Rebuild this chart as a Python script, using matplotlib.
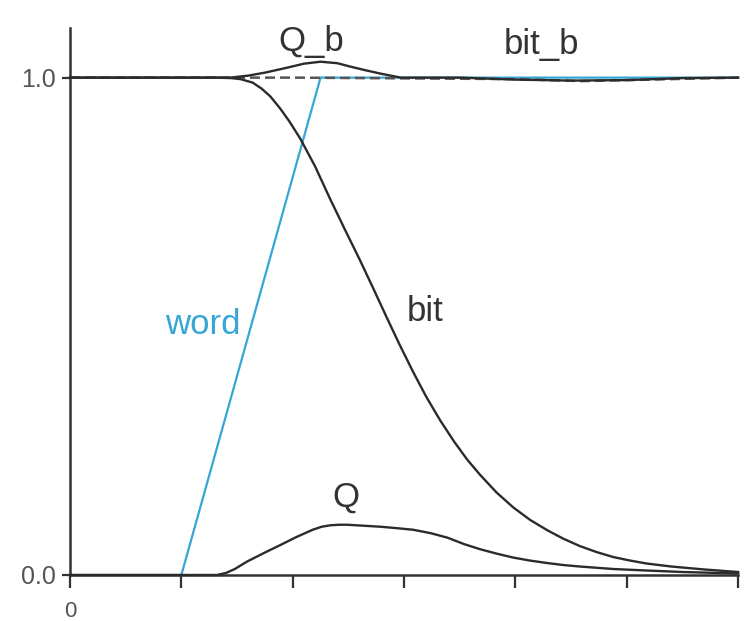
import matplotlib
matplotlib.use("Agg")
import matplotlib.pyplot as plt

# time axis is in arbitrary units, one tick per unit
word_t = [0.0, 1.0, 2.25, 6.0]
word_v = [0.0, 0.0, 1.0, 1.0]

bit_t = [0.0, 1.3, 1.45, 1.53, 1.64, 1.72, 1.80, 1.887, 1.97, 2.066, 2.2,
         2.336, 2.47, 2.606, 2.73, 2.848, 2.96, 3.082, 3.2, 3.324, 3.45,
         3.567, 3.68, 3.83, 3.98, 4.13, 4.286, 4.43, 4.58, 4.73, 4.88, 5.03,
         5.18, 5.4, 5.7, 6.0]
bit_v = [1.0, 1.0, 0.999, 0.997, 0.99, 0.978, 0.962, 0.938, 0.912, 0.878,
         0.822, 0.756, 0.694, 0.632, 0.573, 0.516, 0.463, 0.408, 0.358, 0.311,
         0.268, 0.232, 0.202, 0.166, 0.136, 0.111, 0.090, 0.073, 0.058, 0.046,
         0.036, 0.029, 0.023, 0.017, 0.011, 0.006]

q_t = [0.0, 1.32, 1.40, 1.48, 1.59, 1.74, 1.887, 2.03, 2.18, 2.26, 2.34,
       2.42, 2.49, 2.64, 2.79, 2.94, 3.08, 3.24, 3.39, 3.54, 3.68, 3.83,
       3.98, 4.13, 4.286, 4.43, 4.58, 4.88, 5.18, 5.5, 6.0]
q_v = [0.0, 0.0, 0.004, 0.012, 0.027, 0.044, 0.060, 0.076, 0.091, 0.097,
       0.100, 0.101, 0.101, 0.099, 0.097, 0.094, 0.091, 0.084, 0.075, 0.062,
       0.052, 0.043, 0.035, 0.029, 0.024, 0.020, 0.017, 0.012, 0.009, 0.006,
       0.003]

qb_t = [0.0, 1.44, 1.6, 1.75, 1.95, 2.1, 2.25, 2.4, 2.52, 2.65, 2.79, 2.97,
        3.5, 4.0, 4.5, 5.0, 5.5, 6.0]
qb_v = [1.0, 1.0, 1.004, 1.01, 1.02, 1.028, 1.032, 1.029, 1.022, 1.015,
        1.008, 1.0, 1.0, 0.996, 0.994, 0.995, 0.999, 1.0]

bitb_t = [0.0, 2.0, 4.0, 4.6, 5.2, 6.0]
bitb_v = [1.0, 1.0, 0.997, 0.993, 0.996, 1.0]

labels = ["Q_b", "bit_b", "word", "bit", "Q"]
label_x = [2.17, 4.23, 1.195, 3.19, 2.48]
label_y = [1.072, 1.066, 0.503, 0.529, 0.157]

blue = "#35a6d6"
dark = "#2b2b2b"

fig = plt.figure(figsize=(7.44, 6.21), dpi=100)
ax = fig.add_axes([0.0941, 0.0741, 0.898, 0.881])

ax.plot(word_t, word_v, color=blue, lw=1.6, clip_on=False, zorder=2)
ax.plot(bitb_t, bitb_v, color="#555555", lw=1.8, ls=(0, (4, 2)), clip_on=False, zorder=3)
ax.plot(qb_t, qb_v, color=dark, lw=1.7, clip_on=False, zorder=4)
ax.plot(bit_t, bit_v, color=dark, lw=1.7, clip_on=False, zorder=4)
ax.plot(q_t, q_v, color=dark, lw=1.7, clip_on=False, zorder=4)

for name, x, y in zip(labels, label_x, label_y):
    ax.text(x, y, name, ha="center", va="center", fontsize=25,
            family=["Liberation Sans", "DejaVu Sans"],
            color=blue if name == "word" else "#333333")

ax.set_xlim(0, 6)
ax.set_ylim(0, 1.1)
ax.set_xticks(range(7))
ax.set_xticklabels(["0", "", "", "", "", "", ""])
ax.set_yticks([0.0, 1.0])
ax.set_yticklabels(["0.0", "1.0"])

for side in ["top", "right"]:
    ax.spines[side].set_visible(False)
for side in ["left", "bottom"]:
    ax.spines[side].set_linewidth(1.8)
    ax.spines[side].set_color("#333333")

ax.tick_params(axis="x", direction="out", length=9, width=1.6, color="#333333",
               pad=10, labelsize=16, labelcolor="#555555")
ax.tick_params(axis="y", direction="out", length=6, width=1.6, color="#333333",
               pad=4, labelsize=18, labelcolor="#555555")
for lab in ax.get_xticklabels() + ax.get_yticklabels():
    lab.set_family(["Liberation Sans", "DejaVu Sans"])

fig.savefig("out.png", dpi=100, facecolor="white")
